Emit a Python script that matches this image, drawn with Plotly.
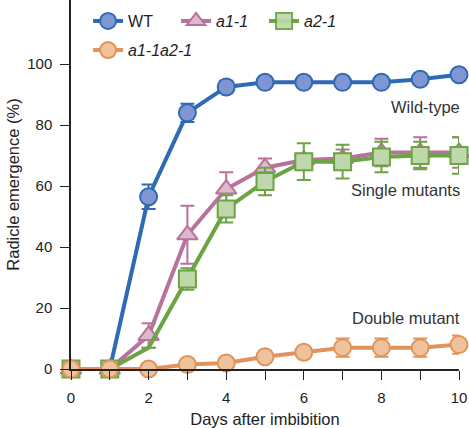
import plotly.graph_objects as go

days = [0, 1, 2, 3, 4, 5, 6, 7, 8, 9, 10]

wt = [0, 0, 56.5, 84, 92.5, 94, 94, 94, 94, 95, 96.5]
wt_err = [0, 0, 4, 3, 2, 1, 0.5, 0.5, 0.5, 1, 1]

a11 = [0, 0, 11, 44, 59, 66, 68.5, 69, 71, 71, 71]
a11_err = [0, 0, 4, 9.5, 5.5, 3, 2, 3, 4.5, 5, 5]

a21 = [0, 0, 7, 29.5, 52.5, 61.5, 68, 68, 69.5, 70, 70]
a21_err = [0, 0, 0, 3.5, 4.5, 4.5, 6, 5.5, 5, 4.5, 6]

dbl = [0, 0, 0, 1.5, 2, 4, 5.5, 7, 7, 7, 8]
dbl_err = [0, 0, 0, 0, 0, 0, 0, 3, 3, 3, 3]

x_ticks = [0, 2, 4, 6, 8, 10]
y_ticks = [0, 20, 40, 60, 80, 100]

FONT = "Liberation Sans, Arial, sans-serif"

series = [
    dict(name="WT", y=wt, e=wt_err, line="#2f6ab5", fill="#7f96d2", sym="circle", legend="legend", op=None),
    dict(name="<i>a1-1</i>", y=a11, e=a11_err, line="#b8729b", fill="#dcb8cc", sym="triangle-up", legend="legend", op=None),
    dict(name="<i>a2-1</i>", y=a21, e=a21_err, line="#6ba443", fill="#bfd8ab", sym="square", legend="legend",
         op=[1, 1, 0, 1, 1, 1, 1, 1, 1, 1, 1]),
    dict(name="<i>a1-1a2-1</i>", y=dbl, e=dbl_err, line="#e0935b", fill="#eec39c", sym="circle", legend="legend2", op=None),
]

fig = go.Figure()
for s in series:
    marker = dict(symbol=s["sym"], size=17 if s["sym"] != "triangle-up" else 18,
                  color=s["fill"], line=dict(color=s["line"], width=2))
    if s["op"] is not None:
        marker["opacity"] = s["op"]
    fig.add_trace(go.Scatter(
        x=days, y=s["y"], name=s["name"], mode="lines+markers",
        line=dict(color=s["line"], width=4),
        marker=marker,
        error_y=dict(type="data", array=s["e"], visible=True, color=s["line"], thickness=2, width=7),
        cliponaxis=False, legend=s["legend"],
    ))

annots = [
    dict(text="Wild-type", x=10, y=86),
    dict(text="Single mutants", x=10, y=58.7),
    dict(text="Double mutant", x=10, y=16.7),
]
for a in annots:
    fig.add_annotation(x=a["x"], y=a["y"], text=a["text"], showarrow=False, xanchor="right",
                       yanchor="middle", xshift=3, font=dict(size=16.5, color="#333333", family=FONT))

fig.update_layout(
    width=469, height=428,
    margin=dict(l=71, r=10, t=0, b=59),
    plot_bgcolor="white", paper_bgcolor="white",
    font=dict(family=FONT, size=15, color="#222222"),
    showlegend=True,
    legend=dict(orientation="h", x=0.044, y=0.989, xanchor="left", yanchor="top",
                entrywidth=43, font=dict(size=16, color="#222222"), bgcolor="rgba(0,0,0,0)",
                itemwidth=30),
    legend2=dict(orientation="h", x=0.044, y=0.91, xanchor="left", yanchor="top",
                 font=dict(size=16, color="#222222"), bgcolor="rgba(0,0,0,0)", itemwidth=30),
    xaxis=dict(range=[0, 10], tickvals=x_ticks, ticks="outside", ticklen=9, tickwidth=1.2,
               tickcolor="#222222", showline=True, linecolor="#222222", linewidth=1.5,
               showgrid=False, zeroline=False, ticklabelstandoff=5,
               title=dict(text="Days after imbibition", font=dict(size=16.5, color="#222222"), standoff=9),
               tickfont=dict(size=15), minor=dict(ticks="outside", ticklen=9, dtick=1, tickcolor="#222222")),
    yaxis=dict(range=[0, 121], tickvals=y_ticks, ticks="outside", ticklen=9, tickwidth=1.2,
               tickcolor="#222222", showline=True, linecolor="#222222", linewidth=1.5,
               showgrid=False, zeroline=False, ticklabelstandoff=5,
               title=dict(text="Radicle emergence (%)", font=dict(size=16.5, color="#222222"), standoff=3),
               tickfont=dict(size=15)),
)

fig.write_html("out.html", config={"displayModeBar": False},
               post_script="document.body.style.margin='0';")
